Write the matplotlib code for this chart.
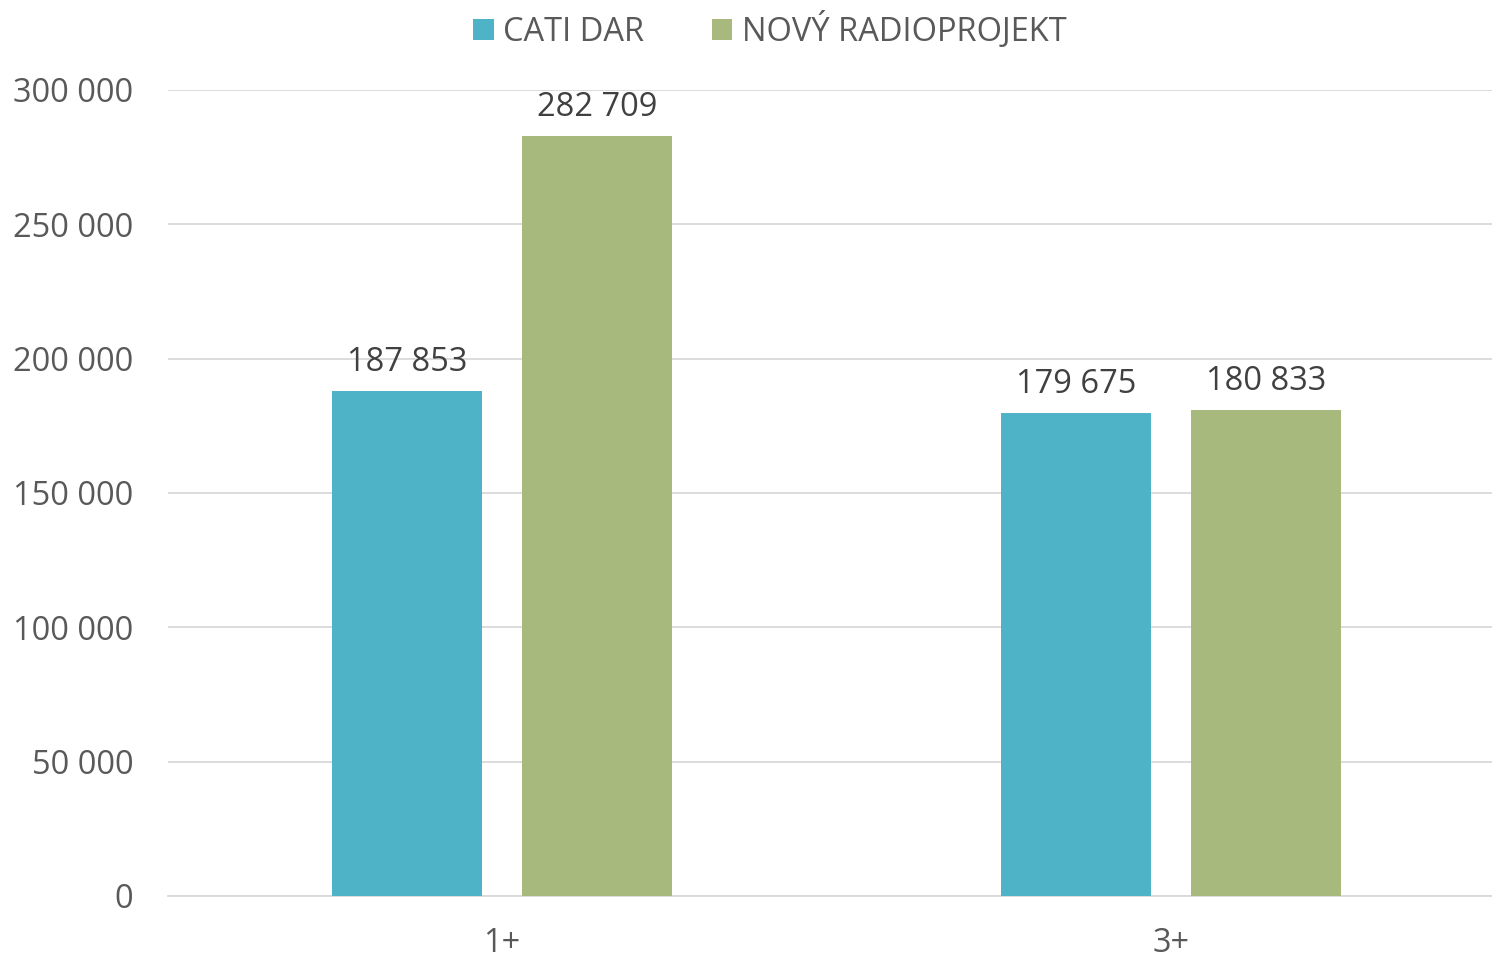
import matplotlib
matplotlib.use("Agg")
import matplotlib.pyplot as plt
from matplotlib.ticker import FuncFormatter
from matplotlib.patches import Patch

categories = ["1+", "3+"]
series_names = ["CATI DAR", "NOVÝ RADIOPROJEKT"]
cati_dar = [187853, 179675]
novy_radioprojekt = [282709, 180833]
colors = ["#4FB3C8", "#A8B97E"]

plt.rcParams['font.family'] = ['Open Sans', 'DejaVu Sans']
FS = 23.5

fig = plt.figure(figsize=(14.92, 9.58), dpi=100)
ax = fig.add_axes([168/1492, 62/958, 1 - 168/1492, (896-90)/958])

x = list(range(len(categories)))
offset = 0.142
width = 0.224
for vals, off, col in [(cati_dar, -offset, colors[0]), (novy_radioprojekt, offset, colors[1])]:
    xs = [xi + off for xi in x]
    bars = ax.bar(xs, vals, width=width, color=col, zorder=3)
    for b, v in zip(bars, vals):
        ax.annotate(f"{v:,}".replace(",", " "), (b.get_x() + b.get_width()/2, v),
                    xytext=(0, 9), textcoords="offset points", ha="center", va="bottom",
                    fontsize=FS, color="#404040")

ax.set_ylim(0, 300000)
ax.set_xlim(-0.499, 1.48)
ax.set_yticks(range(0, 300001, 50000))
ax.yaxis.set_major_formatter(FuncFormatter(lambda v, p: f"{int(v):,}".replace(",", " ")))
ax.set_xticks(x)
ax.set_xticklabels(categories)
ax.tick_params(axis='both', length=0, labelsize=FS, labelcolor="#595959")
ax.tick_params(axis='y', pad=25)
ax.tick_params(axis='x', pad=22)
ax.grid(axis='y', color="#D9D9D9", linewidth=1.3, zorder=0)
for s in ["top", "right", "left"]:
    ax.spines[s].set_visible(False)
ax.spines["bottom"].set_color("#D9D9D9")
ax.spines["bottom"].set_linewidth(1.3)

handles = [Patch(facecolor=c, edgecolor='none') for c in colors]
fig.legend(handles, series_names, loc="upper center", bbox_to_anchor=(0.516, 1.018), ncol=2,
           frameon=False, fontsize=FS, labelcolor="#595959", handlelength=0.62, handleheight=0.62,
           handletextpad=0.3, columnspacing=2.05)

fig.savefig("out.png", dpi=100)
